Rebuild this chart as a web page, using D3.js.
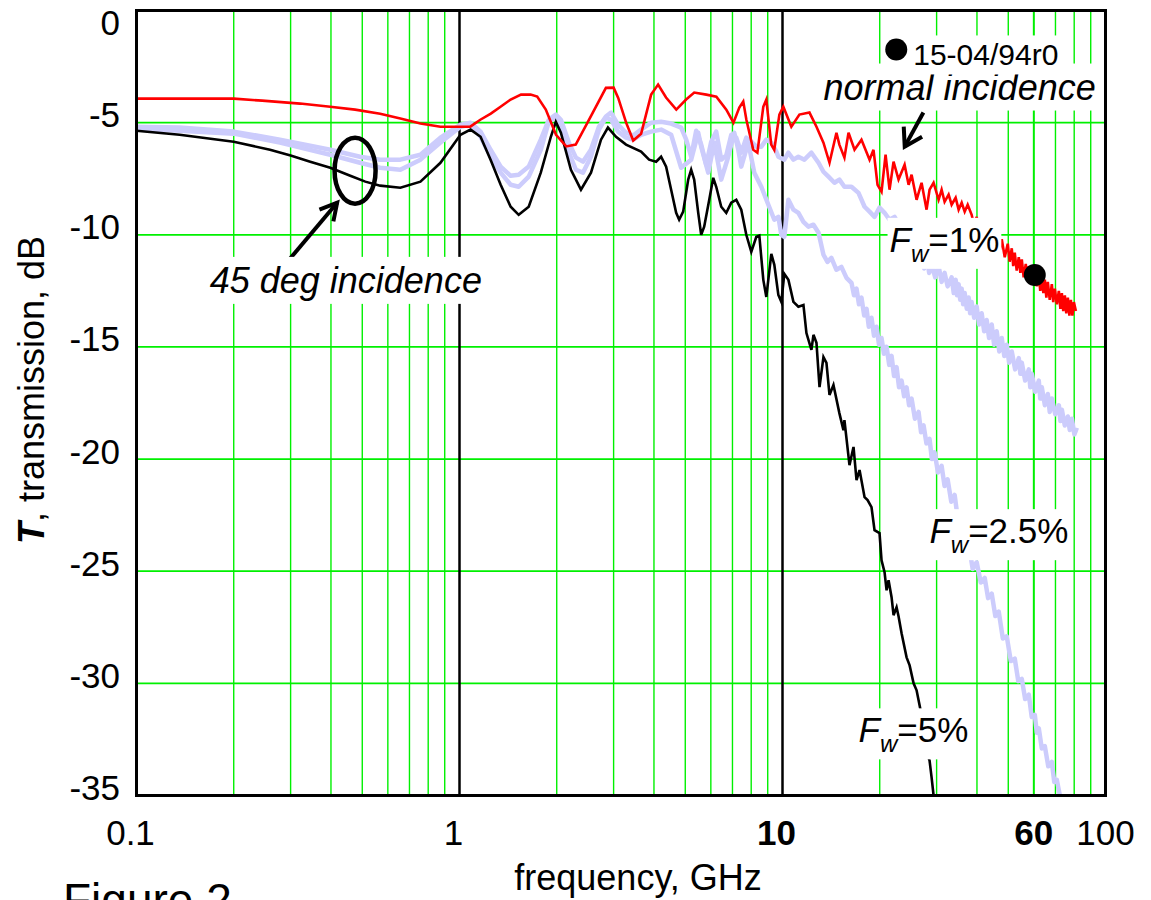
<!DOCTYPE html>
<html><head><meta charset="utf-8">
<script src="https://cdn.jsdelivr.net/npm/d3@7"></script>
<style>
body{margin:0;background:#fff}
svg{display:block}
text{font-family:"Liberation Sans",Arial,Helvetica,sans-serif;fill:#000}
</style>
</head><body>
<svg id="chart" width="1151" height="900"></svg>
<script>
// ---------- data ----------
const xTickValues = [0.1, 1, 10, 60, 100];
const xTickLabels = ["0.1", "1", "10", "60", "100"];
const xBoldTicks = ["10", "60"];
const yTickValues = [0, -5, -10, -15, -20, -25, -30, -35];
const yTickLabels = ["0", "-5", "-10", "-15", "-20", "-25", "-30", "-35"];
const xTitle = "frequency, GHz";
const yTitleSymbol = "T";
const yTitleRest = ", transmission, dB";
const caption = "Figure 2";

// normal incidence (red) [GHz, dB]
const normalIncidence = [
[0.1,-3.93],[0.2,-3.93],[0.245,-4.02],[0.321,-4.15],[0.398,-4.29],[0.475,-4.42],[0.568,-4.6],[0.656,-4.82],[0.757,-5.04],[0.873,-5.18],[1.0,-5.18],[1.08,-5.18],[1.16,-4.87],[1.25,-4.6],[1.34,-4.29],[1.44,-3.97],[1.55,-3.75],[1.66,-3.75],[1.74,-3.84],[1.85,-4.42],[1.99,-5.54],[2.14,-6.06],[2.29,-5.98],[2.55,-4.72],[2.84,-3.45],[3.0,-3.44],[3.1,-3.9],[3.28,-5.0],[3.45,-5.8],[3.65,-5.5],[3.92,-3.75],[4.12,-3.3],[4.36,-3.88],[4.69,-4.42],[5.03,-3.97],[5.33,-3.66],[5.81,-3.75],[6.24,-3.84],[6.70,-4.42],[7.05,-5.0],[7.35,-4.33],[7.56,-4.06],[7.73,-4.87],[8.12,-6.21],[8.36,-6.34],[8.72,-4.29],[8.91,-3.97],[9.23,-5.98],[9.43,-6.21],[9.78,-4.64],[10.06,-4.29],[10.65,-5.18],[11.28,-4.64],[12.12,-4.55],[12.74,-5.18],[13.39,-5.89],[13.98,-6.79],[14.69,-5.45],[15.0,-5.98],[15.55,-6.56],[16.01,-5.45],[16.71,-6.21],[17.56,-5.76],[18.6,-6.65],[19.13,-6.21],[19.69,-7.77],[20.26,-8.08],[20.85,-6.43],[21.45,-7.99],[22.07,-6.74],[22.87,-7.54],[23.88,-6.88],[24.57,-7.77],[25.1,-7.32],[26.01,-8.44],[26.95,-7.68],[27.93,-8.88],[28.53,-7.99],[29.36,-7.68],[30.43,-8.44],[31.09,-7.99],[31.76,-8.53],[32.68,-8.21],[33.39,-8.66],[34.36,-8.35],[35.1,-8.88],[35.87,-8.57],[36.65,-8.97],[37.44,-8.66],[38.52,-9.11],[39.2,-9.6],[39.92,-9.2],[40.6,-9.9],[41.37,-9.4],[42.1,-10.2],[42.87,-9.7],[43.6,-10.3],[44.44,-9.8],[45.2,-10.6],[46.05,-10.0],[46.9,-10.8],[47.73,-10.2],[48.76,-11.0],[49.82,-10.4],[50.5,-11.2],[51.26,-10.6],[51.8,-11.4],[52.37,-10.8],[53.1,-11.6],[53.89,-11.0],[54.5,-11.7],[55.06,-11.1],[55.8,-11.9],[56.65,-11.3],[57.2,-12.0],[57.88,-11.4],[58.5,-12.1],[59.13,-11.5],[59.8,-12.2],[60.41,-11.6],[61.3,-12.3],[62.16,-11.8],[62.8,-12.5],[63.51,-11.9],[64.2,-12.6],[64.89,-12.0],[65.6,-12.8],[66.29,-12.1],[67.2,-12.9],[68.21,-12.2],[68.9,-13.0],[69.69,-12.4],[70.7,-13.1],[71.71,-12.5],[72.5,-13.3],[73.26,-12.6],[74.0,-13.4],[74.84,-12.7],[75.6,-13.5],[76.46,-12.8],[77.3,-13.6],[78.12,-12.9],[79.0,-13.6],[79.82,-13.0],[80.97,-13.4]
];

// 45 deg incidence, Fw = 1% (light)
const incidence45Fw1 = [
[0.1,-5.18],[0.136,-5.22],[0.2,-5.4],[0.278,-5.76],[0.398,-6.21],[0.492,-6.52],[0.568,-6.65],[0.656,-6.65],[0.757,-6.43],[0.873,-5.67],[1.007,-5.09],[1.082,-5.0],[1.162,-5.4],[1.248,-6.21],[1.341,-6.96],[1.44,-7.37],[1.525,-7.32],[1.638,-6.96],[1.785,-5.76],[1.89,-4.87],[1.987,-4.64],[2.06,-4.87],[2.181,-5.89],[2.293,-6.56],[2.411,-6.74],[2.552,-6.21],[2.702,-5.18],[2.84,-4.73],[2.945,-4.55],[3.096,-5.09],[3.278,-5.45],[3.446,-5.58],[3.649,-5.31],[3.919,-5.0],[4.209,-4.96],[4.521,-5.04],[4.856,-5.22],[5.033,-5.76],[5.215,-6.52],[5.405,-5.36],[5.601,-5.98],[5.805,-6.88],[6.016,-5.85],[6.235,-5.4],[6.461,-6.65],[6.697,-6.47],[6.94,-5.54],[7.193,-5.67],[7.453,-6.34],[7.725,-5.67],[8.005,-5.85],[8.297,-6.07],[8.598,-6.07],[8.911,-5.76],[9.234,-5.89],[9.57,-6.29],[9.709,-6.52],[10.13,-6.65],[10.43,-6.34],[10.81,-6.65],[11.2,-6.52],[11.69,-6.65],[12.29,-6.34],[12.93,-6.79],[13.39,-7.19],[13.88,-7.41],[14.48,-7.68],[15.0,-7.54],[15.55,-7.86],[16.35,-7.86],[17.19,-8.13],[17.95,-8.75],[18.6,-8.97],[19.27,-9.2],[19.97,-8.79],[20.7,-9.02],[21.45,-9.33],[22.23,-9.2],[23.37,-9.78],[24.2,-10.3],[25.1,-10.3],[26.0,-11.0],[26.95,-10.9],[27.45,-11.5],[27.93,-10.9],[28.45,-11.7],[28.95,-11.3],[29.7,-11.9],[30.43,-11.4],[31.1,-12.1],[31.76,-11.7],[32.45,-12.3],[33.39,-11.9],[33.9,-12.6],[34.36,-12.0],[34.7,-12.7],[35.1,-12.2],[35.5,-12.9],[35.87,-12.4],[36.25,-13.1],[36.65,-12.6],[37.2,-13.3],[37.71,-12.8],[38.1,-13.5],[38.52,-13.0],[39.2,-13.7],[39.92,-13.2],[40.6,-14.0],[41.37,-13.5],[42.1,-14.3],[42.87,-13.8],[43.6,-14.6],[44.44,-14.0],[45.2,-14.9],[46.05,-14.3],[46.9,-15.2],[47.73,-14.6],[48.6,-15.4],[49.46,-14.9],[50.3,-15.7],[51.26,-15.2],[52.5,-16.0],[53.89,-15.5],[54.5,-16.2],[55.06,-15.7],[56.4,-16.5],[57.88,-16.0],[58.5,-16.8],[59.13,-16.2],[60.6,-17.0],[62.16,-16.5],[62.8,-17.3],[63.51,-16.8],[64.9,-17.6],[66.29,-17.1],[67.2,-17.9],[68.21,-17.3],[69.9,-18.0],[71.71,-17.6],[72.5,-18.3],[73.26,-17.8],[74.8,-18.5],[76.46,-18.1],[77.5,-18.7],[78.69,-18.2],[80.1,-18.9],[81.55,-18.6]
];

// 45 deg incidence, Fw = 2.5% (light)
const incidence45Fw25 = [
[0.1,-5.27],[0.136,-5.36],[0.2,-5.49],[0.278,-5.89],[0.398,-6.43],[0.492,-6.79],[0.568,-7.01],[0.656,-7.1],[0.757,-6.65],[0.873,-5.89],[1.007,-5.18],[1.082,-5.09],[1.162,-5.63],[1.248,-6.52],[1.341,-7.23],[1.44,-7.77],[1.525,-7.86],[1.638,-7.41],[1.785,-6.21],[1.89,-4.96],[1.987,-4.73],[2.06,-5.18],[2.181,-6.34],[2.293,-7.1],[2.411,-7.23],[2.552,-6.52],[2.702,-5.31],[2.84,-4.78],[2.945,-4.87],[3.096,-5.4],[3.278,-5.67],[3.446,-5.76],[3.649,-5.54],[3.919,-5.4],[4.209,-5.31],[4.521,-5.54],[4.856,-7.01],[5.215,-6.65],[5.484,-5.45],[5.601,-6.07],[5.889,-7.23],[6.147,-5.89],[6.461,-7.54],[6.793,-6.52],[7.09,-5.45],[7.297,-6.21],[7.453,-6.96],[7.836,-5.89],[8.178,-7.23],[8.598,-7.86],[9.04,-8.66],[9.434,-9.33],[9.709,-9.2],[9.918,-10.0],[10.13,-10.09],[10.43,-8.44],[10.81,-8.88],[11.2,-9.02],[11.61,-9.42],[12.03,-9.64],[12.47,-9.55],[12.93,-9.91],[13.39,-10.89],[13.78,-11.21],[14.17,-11.03],[14.69,-11.56],[15.22,-11.43],[15.78,-11.92],[16.35,-12.14],[16.65,-12.7],[16.95,-12.4],[17.25,-13.1],[17.56,-12.8],[17.9,-13.6],[18.21,-13.3],[18.5,-14.1],[18.86,-13.7],[19.2,-14.5],[19.55,-14.1],[19.9,-14.9],[20.26,-14.6],[20.6,-15.3],[21.0,-15.0],[21.4,-15.8],[21.76,-15.4],[22.15,-16.3],[22.55,-15.9],[22.95,-16.8],[23.37,-16.5],[23.8,-17.2],[24.22,-16.8],[24.65,-17.6],[25.1,-17.3],[25.7,-18.2],[26.38,-17.9],[26.85,-18.8],[27.34,-18.5],[27.9,-19.3],[28.53,-19.1],[29.0,-20.0],[29.57,-19.7],[30.3,-20.6],[31.09,-20.3],[31.75,-21.2],[32.45,-20.9],[33.3,-21.9],[34.12,-21.6],[35.0,-22.8],[35.87,-22.7],[36.8,-23.9],[37.71,-23.8],[38.8,-24.9],[39.92,-24.6],[41.1,-25.5],[42.27,-25.3],[43.3,-26.2],[44.44,-26.0],[45.6,-27.0],[46.72,-26.8],[48.1,-28.0],[49.46,-27.9],[50.9,-29.0],[52.37,-28.9],[53.7,-29.9],[55.06,-29.8],[56.4,-30.7],[57.88,-30.5],[59.1,-31.5],[60.41,-31.4],[61.3,-32.2],[62.16,-32.0],[63.5,-32.9],[64.89,-32.8],[66.5,-33.7],[68.21,-33.5],[69.4,-34.4],[70.69,-34.3],[72.22,-35.0]
];

// 45 deg incidence, Fw = 5% (black)
const incidence45Fw5 = [
[0.1,-5.36],[0.136,-5.54],[0.2,-5.85],[0.259,-6.21],[0.3,-6.47],[0.345,-6.74],[0.398,-7.01],[0.459,-7.37],[0.511,-7.63],[0.568,-7.81],[0.656,-7.9],[0.757,-7.63],[0.873,-6.79],[1.007,-5.54],[1.082,-5.31],[1.162,-5.63],[1.248,-6.65],[1.341,-7.77],[1.44,-8.75],[1.525,-9.11],[1.638,-8.75],[1.785,-7.23],[1.918,-5.63],[1.987,-4.96],[2.06,-5.45],[2.213,-7.1],[2.377,-7.99],[2.553,-7.23],[2.742,-5.76],[2.881,-5.22],[3.052,-5.63],[3.278,-5.98],[3.649,-6.29],[3.863,-6.65],[4.062,-6.74],[4.209,-6.52],[4.362,-6.96],[4.521,-7.99],[4.686,-9.02],[4.787,-9.33],[4.926,-8.97],[5.106,-7.54],[5.215,-7.1],[5.328,-7.54],[5.484,-9.02],[5.601,-10.0],[5.722,-9.64],[5.932,-8.44],[6.103,-7.46],[6.235,-7.86],[6.461,-8.75],[6.697,-9.02],[6.94,-8.57],[7.193,-8.44],[7.453,-8.88],[7.725,-10.0],[8.005,-10.76],[8.297,-10.09],[8.477,-10.04],[8.722,-12.01],[8.911,-12.77],[9.234,-10.85],[9.434,-11.34],[9.709,-12.68],[9.918,-12.99],[10.13,-11.74],[10.43,-12.01],[10.81,-12.99],[11.2,-13.21],[11.61,-13.13],[11.86,-14.38],[12.29,-15.13],[12.47,-14.46],[12.74,-14.82],[13.02,-16.79],[13.39,-15.45],[13.68,-15.71],[13.98,-17.14],[14.38,-16.7],[15.0,-17.95],[15.44,-18.71],[15.55,-18.26],[16.12,-20.27],[16.59,-19.46],[16.95,-20.94],[17.32,-20.49],[17.95,-21.7],[18.34,-21.83],[18.86,-22.14],[19.27,-23.17],[19.97,-23.3],[20.26,-24.51],[20.7,-25.04],[21.0,-25.85],[21.3,-25.4],[21.76,-26.16],[22.07,-26.96],[22.55,-26.61],[22.87,-27.01],[23.37,-27.77],[24.22,-28.84],[24.75,-29.2],[25.46,-30.0],[26.01,-30.31],[26.57,-30.98],[27.14,-31.65],[27.93,-33.08],[28.53,-33.44],[28.95,-34.2],[29.36,-35.0]
];

// annotation anchors in data units [GHz, dB]
const refDots = [[22.5, -1.74], [60.4, -11.79]];
const refLabel = {text: "15-04/94r0", at: [25.4, -2.45]};
const normalLabel = {text: "normal incidence", at: [13.4, -3.97]};
const normalArrow = {from: [27.3, -4.55], to: [23.9, -6.07]};
const obliqueLabel = {text: "45 deg incidence", at: [0.1685, -12.59]};
const obliqueArrow = {from: [0.2985, -11.07], to: [0.418, -8.57]};
const obliqueEllipse = [0.475, -7.14];
const fwLabels = [
  {value: "=1%", at: [21.45, -10.76]},
  {value: "=2.5%", at: [28.5, -23.75]},
  {value: "=5%", at: [17.2, -32.63]}
];

// ---------- drawing ----------
const svg = d3.select("#chart");
const pLeft = 136.5, pRight = 1105.5, pTop = 10.5, pBottom = 795.5;
const x = d3.scaleLog().domain([0.1, 100]).range([pLeft, pRight]);
const y = d3.scaleLinear().domain([0, -35]).range([pTop, pBottom]);
const GREEN = "#00f000";

svg.append("defs").append("clipPath").attr("id", "plotClip")
  .append("rect").attr("x", pLeft).attr("y", pTop).attr("width", pRight - pLeft).attr("height", pBottom - pTop);

// grid
const gridG = svg.append("g");
const vLines = [];
[0.1, 1, 10].forEach(d => { for (let k = 1; k <= 9; k++) vLines.push(+(k * d).toPrecision(3)); });
vLines.forEach(v => {
  if (v === 0.1 || v === 1 || v === 10) return;
  gridG.append("line")
    .attr("x1", x(v)).attr("x2", x(v)).attr("y1", pTop).attr("y2", pBottom)
    .attr("stroke", GREEN)
    .attr("stroke-width", v === 60 ? 2 : 1.4);
});
yTickValues.forEach(v => {
  if (v === 0 || v === -35) return;
  gridG.append("line").attr("x1", pLeft).attr("x2", pRight).attr("y1", y(v)).attr("y2", y(v))
    .attr("stroke", GREEN).attr("stroke-width", 1.8);
});
[1, 10].forEach(v => gridG.append("line").attr("x1", x(v)).attr("x2", x(v)).attr("y1", pTop).attr("y2", pBottom)
  .attr("stroke", "#000").attr("stroke-width", 2.5));

// curves
const line = d3.line().x(d => x(d[0])).y(d => y(Math.max(d[1], -35.5)));
const curveG = svg.append("g").attr("clip-path", "url(#plotClip)");
const lav = "#ccccfc";
curveG.append("path").datum(incidence45Fw25).attr("d", line).attr("fill", "none").attr("stroke", lav).attr("stroke-width", 4.5).attr("stroke-linejoin", "round");
curveG.append("path").datum(incidence45Fw1).attr("d", line).attr("fill", "none").attr("stroke", lav).attr("stroke-width", 4.5).attr("stroke-linejoin", "round");
curveG.append("path").datum(incidence45Fw5).attr("d", line).attr("fill", "none").attr("stroke", "#000").attr("stroke-width", 2.6);
curveG.append("path").datum(normalIncidence).attr("d", line).attr("fill", "none").attr("stroke", "#ff0000").attr("stroke-width", 2.6);

// annotations
const annG = svg.append("g");
function boxed(g, build, pad) {
  const t = build(g.append("g"));
  const b = t.node().getBBox();
  t.insert("rect", ":first-child").attr("x", b.x - pad).attr("y", b.y - pad)
    .attr("width", b.width + 2 * pad).attr("height", b.height + 2 * pad).attr("fill", "#fff");
  return t;
}
function arrow(g, a, headLen, spread) {
  const x1 = x(a.from[0]), y1 = y(a.from[1]), x2 = x(a.to[0]), y2 = y(a.to[1]);
  const ang = Math.atan2(y1 - y2, x1 - x2);
  const p1 = [x2 + headLen * Math.cos(ang + spread), y2 + headLen * Math.sin(ang + spread)];
  const p2 = [x2 + headLen * Math.cos(ang - spread), y2 + headLen * Math.sin(ang - spread)];
  g.append("line").attr("x1", x1).attr("y1", y1).attr("x2", x2).attr("y2", y2).attr("stroke", "#000").attr("stroke-width", 4);
  g.append("path").attr("d", `M${p1[0]},${p1[1]}L${x2},${y2}L${p2[0]},${p2[1]}`)
    .attr("fill", "none").attr("stroke", "#000").attr("stroke-width", 4).attr("stroke-linejoin", "miter");
}

annG.append("ellipse").attr("cx", x(obliqueEllipse[0])).attr("cy", y(obliqueEllipse[1]))
  .attr("rx", 20.5).attr("ry", 33).attr("fill", "none").attr("stroke", "#000").attr("stroke-width", 4.5);
arrow(annG, obliqueArrow, 19, 0.5);
arrow(annG, normalArrow, 20, 0.55);

boxed(annG, g => { g.append("text").attr("x", x(obliqueLabel.at[0])).attr("y", y(obliqueLabel.at[1]))
  .attr("font-size", 36).attr("font-style", "italic").text(obliqueLabel.text); return g; }, 3);
boxed(annG, g => { g.append("text").attr("x", x(normalLabel.at[0])).attr("y", y(normalLabel.at[1]))
  .attr("font-size", 36).attr("font-style", "italic").text(normalLabel.text); return g; }, 3);
boxed(annG, g => {
  g.append("circle").attr("cx", x(refDots[0][0])).attr("cy", y(refDots[0][1])).attr("r", 11).attr("fill", "#000");
  g.append("text").attr("x", x(refLabel.at[0])).attr("y", y(refLabel.at[1])).attr("font-size", 30).text(refLabel.text);
  return g; }, 3);

fwLabels.forEach(l => {
  boxed(annG, g => {
    const t = g.append("text").attr("x", x(l.at[0])).attr("y", y(l.at[1])).attr("font-size", 35);
    t.append("tspan").attr("font-style", "italic").text("F");
    t.append("tspan").attr("font-style", "italic").attr("font-size", 24).attr("dy", 10).text("w");
    t.append("tspan").attr("dy", -10).text(l.value);
    return g;
  }, 2);
});

annG.append("circle").attr("cx", x(refDots[1][0])).attr("cy", y(refDots[1][1])).attr("r", 11).attr("fill", "#000");

// border
svg.append("rect").attr("x", pLeft).attr("y", pTop).attr("width", pRight - pLeft).attr("height", pBottom - pTop)
  .attr("fill", "none").attr("stroke", "#000").attr("stroke-width", 3);

// axis tick labels
const axG = svg.append("g");
yTickValues.forEach((v, i) => {
  axG.append("text").attr("x", 120).attr("y", Math.max(y(v) - 8, 22))
    .attr("text-anchor", "end").attr("dominant-baseline", "central").attr("font-size", 35).text(yTickLabels[i]);
});
xTickValues.forEach((v, i) => {
  const lab = xTickLabels[i];
  axG.append("text").attr("x", x(v) + (v < 20 ? -6 : 0)).attr("y", 845)
    .attr("text-anchor", "middle").attr("font-size", 35)
    .attr("font-weight", xBoldTicks.includes(lab) ? "bold" : "normal").text(lab);
});

// axis titles
axG.append("text").attr("x", 638).attr("y", 890).attr("text-anchor", "middle").attr("font-size", 36).text(xTitle);
const yt = axG.append("text").attr("transform", "translate(44,390) rotate(-90)").attr("text-anchor", "middle").attr("font-size", 36);
yt.append("tspan").attr("font-weight", "bold").attr("font-style", "italic").text(yTitleSymbol);
yt.append("tspan").text(yTitleRest);

axG.append("text").attr("x", 63).attr("y", 916).attr("font-size", 46).text(caption);
</script>
</body></html>
